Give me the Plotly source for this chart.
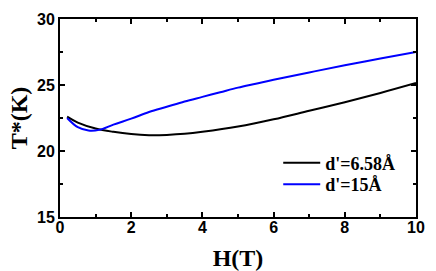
import plotly.graph_objects as go

h_black = [0.2, 0.5, 1.0, 1.5, 2.0, 2.5, 3.0, 3.5, 4.0, 5.0, 6.0, 7.0, 8.0, 9.0, 10.0]
t_black = [22.6, 22.15, 21.7, 21.45, 21.28, 21.2, 21.22, 21.3, 21.45, 21.85, 22.4, 23.05, 23.7, 24.4, 25.15]

h_blue = [0.2, 0.5, 0.8, 1.1, 1.5, 2.0, 2.5, 3.0, 3.5, 4.0, 4.5, 5.0, 5.5, 6.0, 7.0, 8.0, 9.0, 10.0]
t_blue = [22.5, 21.8, 21.55, 21.6, 22.0, 22.45, 22.95, 23.35, 23.75, 24.1, 24.45, 24.8, 25.1, 25.4, 25.95, 26.5, 27.0, 27.5]

names = ["d'=6.58Å", "d'=15Å"]

fig = go.Figure()
fig.add_trace(go.Scatter(x=h_black, y=t_black, mode="lines", name=names[0], legend="legend",
                         line=dict(color="black", width=2, shape="spline")))
fig.add_trace(go.Scatter(x=h_blue, y=t_blue, mode="lines", name=names[1], legend="legend2",
                         line=dict(color="#0000ff", width=2, shape="spline")))

axis_common = dict(
    showline=True, linecolor="black", linewidth=2, mirror="ticks",
    ticks="inside", ticklen=5, tickwidth=1.5, tickcolor="black",
    showgrid=False, zeroline=False, automargin=False,
    tickfont=dict(family="Liberation Sans", size=16, color="black", weight=700),
)

title_font = dict(family="Liberation Serif", size=24, color="black", weight=700)

fig.update_xaxes(range=[0, 10], dtick=2, tick0=0, ticklabelstandoff=-5,
                 minor=dict(ticks="inside", dtick=1, ticklen=3, tickcolor="black", tickwidth=1.5),
                 title=dict(text="H(T)", font=title_font, standoff=17),
                 **axis_common)
fig.update_yaxes(range=[15, 30], dtick=5, tick0=15,
                 minor=dict(ticks="inside", dtick=2.5, ticklen=3, tickcolor="black", tickwidth=1.5),
                 title=dict(text="T*(K)", font=title_font, standoff=3),
                 **axis_common)

leg_font = dict(family="Liberation Serif", size=18, color="black", weight=700)
fig.update_layout(
    width=436, height=271,
    margin=dict(l=60, r=20, t=19, b=54, autoexpand=False),
    paper_bgcolor="white", plot_bgcolor="white",
    showlegend=True,
    legend=dict(x=0.613, y=0.272, xanchor="left", yanchor="middle", itemwidth=37,
                bgcolor="rgba(0,0,0,0)", font=leg_font),
    legend2=dict(x=0.613, y=0.164, xanchor="left", yanchor="middle", itemwidth=37,
                 bgcolor="rgba(0,0,0,0)", font=leg_font),
)

fig.write_html("out.html", config={"displayModeBar": False},
               post_script="document.body.style.margin='0';document.body.style.padding='0';")
